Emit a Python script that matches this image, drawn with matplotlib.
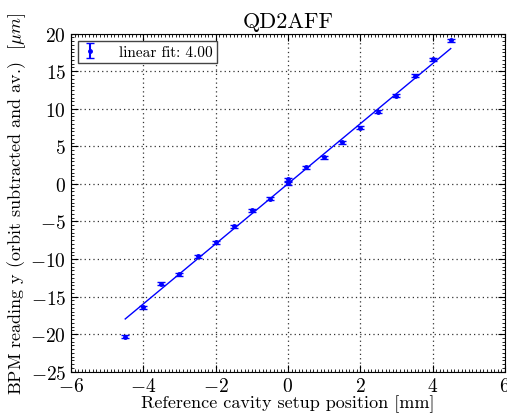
import numpy as np
import matplotlib
matplotlib.use('Agg')
import matplotlib.pyplot as plt
from matplotlib.ticker import MultipleLocator

plt.rcParams['font.family'] = 'serif'
plt.rcParams['font.serif'] = ['cmr10']
plt.rcParams['mathtext.fontset'] = 'cm'
plt.rcParams['axes.formatter.use_mathtext'] = True
plt.rcParams['xtick.direction'] = 'in'
plt.rcParams['ytick.direction'] = 'in'

# reference cavity position [mm] and BPM reading [um]
pos = [-4.5, -4.0, -3.5, -3.0, -2.5, -2.0, -1.5, -1.0, -0.5, 0.0, 0.0,
       0.5, 1.0, 1.5, 2.0, 2.5, 3.0, 3.5, 4.0, 4.5]
bpm = [-20.35, -16.4, -13.3, -12.0, -9.65, -7.75, -5.65, -3.5, -2.0, 0.65, 0.12,
       2.2, 3.55, 5.55, 7.45, 9.6, 11.75, 14.4, 16.6, 19.15]
err = [0.2] * len(pos)
slope = 4.00

pos = np.array(pos)
bpm = np.array(bpm)
offset = np.mean(bpm) - slope * np.mean(pos)
xfit = np.array([pos.min(), pos.max()])

fig = plt.figure(figsize=(5.07, 4.14), dpi=100)
ax = fig.add_axes([0.140, 0.0998, 0.856, 0.8164])

ax.errorbar(pos, bpm, yerr=err, fmt='b.', capsize=3, markersize=5,
            label='linear fit: %.2f' % slope)
ax.plot(xfit, slope * xfit + offset, 'b-', lw=1)

ax.set_xlim(-6, 6)
ax.set_ylim(-25, 20)
ax.xaxis.set_major_locator(MultipleLocator(2))
ax.yaxis.set_major_locator(MultipleLocator(5))
ax.xaxis.set_minor_locator(MultipleLocator(0.1))
ax.yaxis.set_minor_locator(MultipleLocator(0.5))
ax.tick_params(which='both', top=True, right=True, labelsize=14)
ax.tick_params(which='major', length=5)
ax.tick_params(which='minor', length=2)
ax.grid(True, color='#333333', linestyle=(0, (1, 2.5)), linewidth=0.9)

ax.set_title('QD2AFF', fontsize=16, pad=5)
ax.set_xlabel('Reference cavity setup position [mm]', fontsize=13, labelpad=0)
ax.set_ylabel(r'BPM reading y (orbit subtracted and av.)  [$\mu m$]', fontsize=13, labelpad=2)

leg = ax.legend(loc='upper left', numpoints=1, fontsize=11, fancybox=False,
                framealpha=1, edgecolor='#444444', borderaxespad=0.45,
                handlelength=1.0, borderpad=0.3, handletextpad=1.4)
leg.get_frame().set_linewidth(1)

fig.savefig('out.png', dpi=100)
